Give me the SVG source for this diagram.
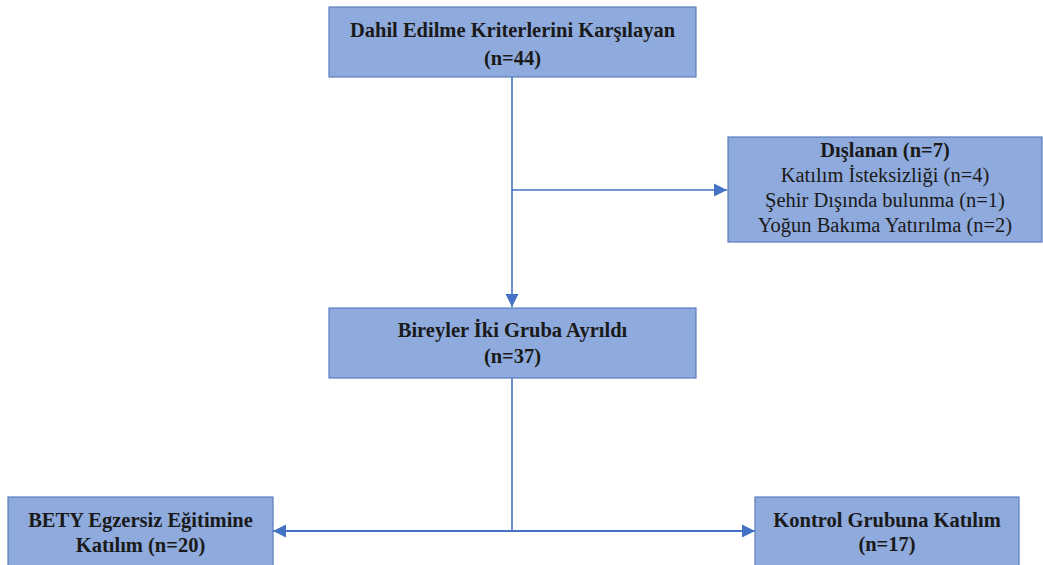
<svg xmlns="http://www.w3.org/2000/svg" width="1043" height="565" viewBox="0 0 1043 565">
  <style>
    .box { fill: #8FAADC; stroke: #5B7EC0; stroke-width: 1.2; }
    .t { font-family: "Liberation Serif", "Times New Roman", serif; font-size: 20.5px; fill: #1a1a1a; text-anchor: middle; }
    .b { font-weight: bold; }
    .conn { fill: none; stroke: #4472C4; stroke-width: 1.6; }
  </style>
  <defs>
    <marker id="arrow" markerUnits="userSpaceOnUse" markerWidth="14" markerHeight="14" viewBox="0 0 14 14" refX="13" refY="7" orient="auto">
      <path d="M0,0.5 L13,7 L0,13.5 Z" fill="#4472C4"/>
    </marker>
  </defs>
  <rect width="1043" height="565" fill="#ffffff"/>

  <g id="connectors">
    <path class="conn" d="M512,77 V307" marker-end="url(#arrow)"/>
    <path class="conn" d="M512,190 H727" marker-end="url(#arrow)"/>
    <path class="conn" d="M512,378 V531"/>
    <path class="conn" d="M512,531 H273" marker-end="url(#arrow)" style="stroke-width:2"/>
    <path class="conn" d="M512,531 H755" marker-end="url(#arrow)" style="stroke-width:2"/>
  </g>

  <g id="node-dahil">
    <rect class="box" x="329" y="7" width="367" height="70"/>
    <text class="t b" x="512.5" y="37">Dahil Edilme Kriterlerini Karşılayan</text>
    <text class="t b" x="512.5" y="65">(n=44)</text>
  </g>

  <g id="node-dislanan">
    <rect class="box" x="728" y="137" width="314" height="105"/>
    <text class="t b" x="885" y="157">Dışlanan (n=7)</text>
    <text class="t" x="885" y="182">Katılım İsteksizliği (n=4)</text>
    <text class="t" x="885" y="207">Şehir Dışında bulunma (n=1)</text>
    <text class="t" x="885" y="232">Yoğun Bakıma Yatırılma (n=2)</text>
  </g>

  <g id="node-bireyler">
    <rect class="box" x="329" y="308" width="367" height="70"/>
    <text class="t b" x="512.5" y="337">Bireyler İki Gruba Ayrıldı</text>
    <text class="t b" x="512.5" y="363">(n=37)</text>
  </g>

  <g id="node-bety">
    <rect class="box" x="8" y="497" width="265" height="80"/>
    <text class="t b" x="140.5" y="527">BETY Egzersiz Eğitimine</text>
    <text class="t b" x="140.5" y="552">Katılım (n=20)</text>
  </g>

  <g id="node-kontrol">
    <rect class="box" x="755" y="497" width="264" height="80"/>
    <text class="t b" x="887" y="527">Kontrol Grubuna Katılım</text>
    <text class="t b" x="887" y="551">(n=17)</text>
  </g>
</svg>
